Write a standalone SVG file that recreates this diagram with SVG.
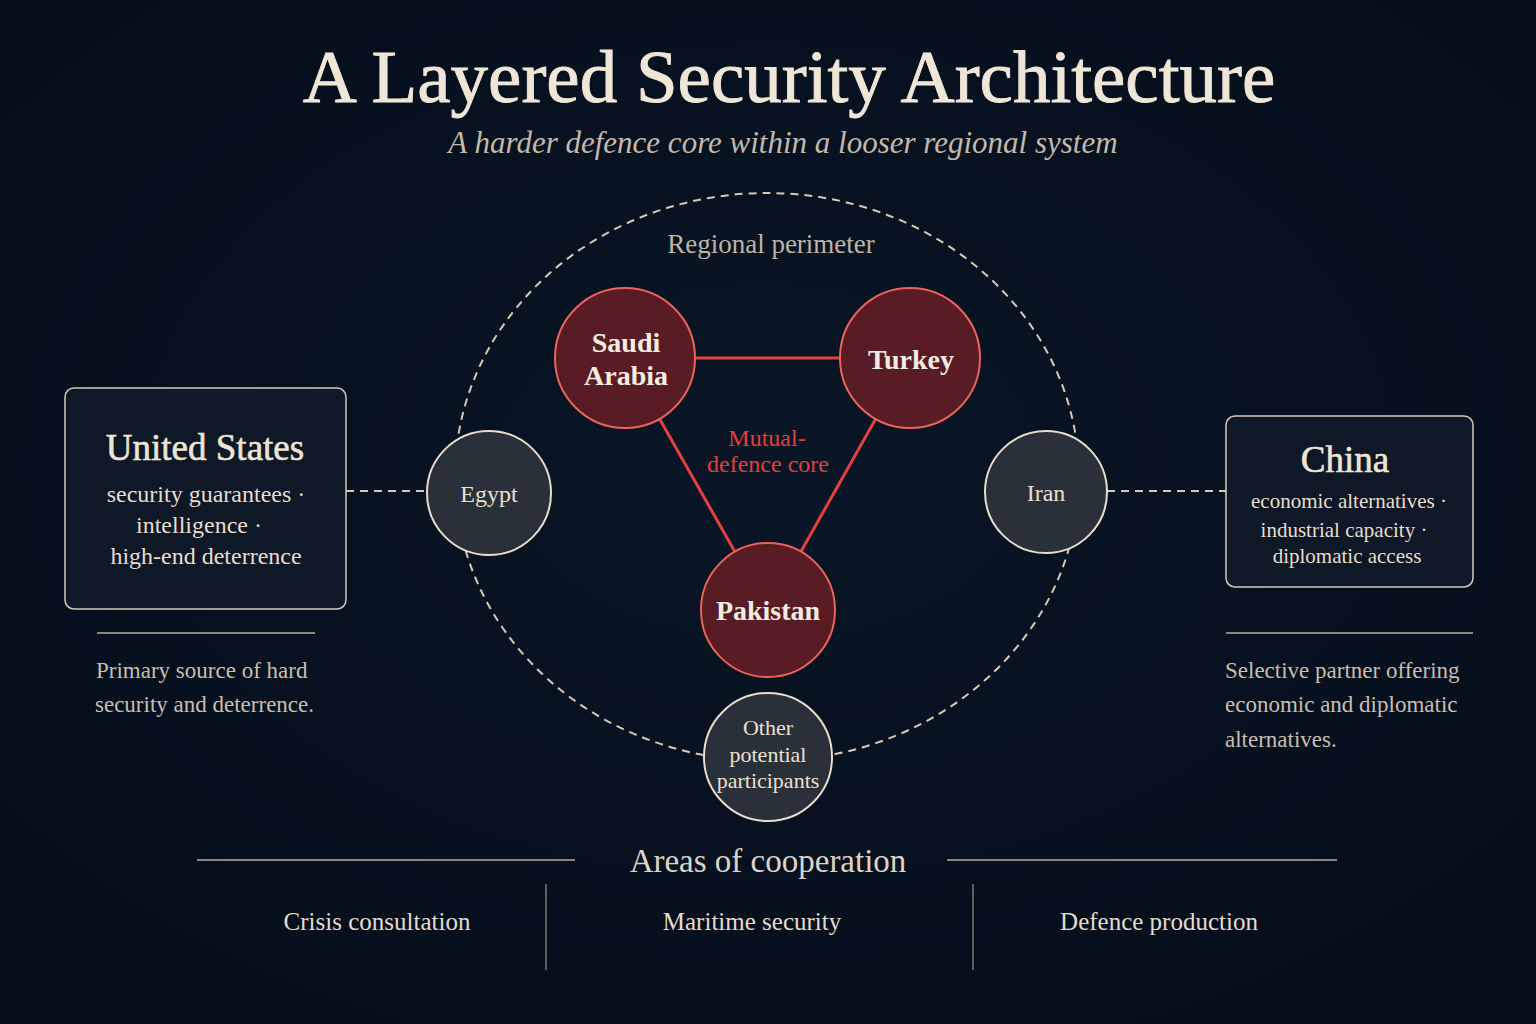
<svg xmlns="http://www.w3.org/2000/svg" width="1536" height="1024" viewBox="0 0 1536 1024">
<defs>
<radialGradient id="bg" cx="50%" cy="45%" r="75%">
<stop offset="0" stop-color="#0a1626"/>
<stop offset="1" stop-color="#040c18"/>
</radialGradient>
<style>
text{font-family:"Liberation Serif","DejaVu Serif",serif;}
.title{font-size:75px;fill:#efe6d8;stroke:#efe6d8;stroke-width:0.9;text-anchor:middle;}
.sub{font-size:31px;fill:#c3b9ab;font-style:italic;text-anchor:middle;}
.box{fill:#0e1826;stroke:#d6cab6;stroke-width:1.5;}
.boxhead{fill:#ede4d5;stroke:#ede4d5;stroke-width:0.6;text-anchor:middle;}
.boxtxt{fill:#e6ddcf;text-anchor:middle;}
.cap{font-size:23px;fill:#c9bfb0;}
.sep{stroke:#b9ae9c;stroke-width:1.5;}
.core{fill:#591c24;stroke:#ec625c;stroke-width:2;}
.coretxt{font-size:28px;fill:#f4ece0;font-weight:bold;text-anchor:middle;}
.outer{fill:#29303a;stroke:#e7ddcb;stroke-width:2;}
.outtxt{font-size:22px;fill:#e9e0d1;text-anchor:middle;}
.outbig{font-size:24px;}
.link{stroke:#e4403c;stroke-width:3;}
.dash{fill:none;stroke:#d6cab3;stroke-width:2;stroke-dasharray:8 6;}
.area{font-size:25px;fill:#e4dccf;text-anchor:middle;}
</style>
</defs>
<rect width="1536" height="1024" fill="url(#bg)"/>

<text class="title" x="789" y="102">A Layered Security Architecture</text>
<text class="sub" x="783" y="153">A harder defence core within a looser regional system</text>

<g id="perimeter">
<ellipse class="dash" cx="767" cy="477" rx="312" ry="284"/>
<text x="771" y="253" font-size="27" fill="#bdb4a6" text-anchor="middle">Regional perimeter</text>
</g>

<g id="connectors">
<line class="dash" x1="346" y1="491" x2="428" y2="491"/>
<line class="dash" x1="1107" y1="491" x2="1226" y2="491"/>
<line class="link" x1="625" y1="358" x2="910" y2="358"/>
<line class="link" x1="625" y1="358" x2="768" y2="610"/>
<line class="link" x1="910" y1="358" x2="768" y2="610"/>
</g>

<g id="core-label">
<text x="767" y="446" font-size="24" fill="#e0403c" text-anchor="middle">Mutual-</text>
<text x="768" y="472" font-size="24" fill="#e0403c" text-anchor="middle">defence core</text>
</g>

<g id="united-states">
<rect class="box" x="65" y="388" width="281" height="221" rx="9"/>
<text class="boxhead" x="205" y="460" font-size="37">United States</text>
<text class="boxtxt" x="206" y="502" font-size="24">security guarantees ·</text>
<text class="boxtxt" x="199" y="533" font-size="24">intelligence ·</text>
<text class="boxtxt" x="206" y="564" font-size="24">high-end deterrence</text>
<line class="sep" x1="97" y1="633" x2="315" y2="633"/>
<text class="cap" x="96" y="678">Primary source of hard</text>
<text class="cap" x="95" y="712">security and deterrence.</text>
</g>

<g id="china">
<rect class="box" x="1226" y="416" width="247" height="171" rx="9"/>
<text class="boxhead" x="1345" y="472" font-size="37">China</text>
<text class="boxtxt" x="1349" y="508" font-size="21">economic alternatives ·</text>
<text class="boxtxt" x="1344" y="537" font-size="21">industrial capacity ·</text>
<text class="boxtxt" x="1347" y="563" font-size="21">diplomatic access</text>
<line class="sep" x1="1226" y1="633" x2="1473" y2="633"/>
<text class="cap" x="1225" y="678">Selective partner offering</text>
<text class="cap" x="1225" y="712">economic and diplomatic</text>
<text class="cap" x="1225" y="747">alternatives.</text>
</g>

<g id="saudi-arabia">
<circle class="core" cx="625" cy="358" r="70"/>
<text class="coretxt" x="626" y="352">Saudi</text>
<text class="coretxt" x="626" y="385">Arabia</text>
</g>

<g id="turkey">
<circle class="core" cx="910" cy="358" r="70"/>
<text class="coretxt" x="911" y="369">Turkey</text>
</g>

<g id="pakistan">
<circle class="core" cx="768" cy="610" r="67"/>
<text class="coretxt" x="768" y="620">Pakistan</text>
</g>

<g id="egypt">
<circle class="outer" cx="489" cy="493" r="62"/>
<text class="outtxt outbig" x="489" y="502">Egypt</text>
</g>

<g id="iran">
<circle class="outer" cx="1046" cy="492" r="61"/>
<text class="outtxt outbig" x="1046" y="501">Iran</text>
</g>

<g id="other-participants">
<circle class="outer" cx="768" cy="757" r="64"/>
<text class="outtxt" x="768" y="735">Other</text>
<text class="outtxt" x="768" y="762">potential</text>
<text class="outtxt" x="768" y="788">participants</text>
</g>

<g id="areas">
<line class="sep" x1="197" y1="860" x2="575" y2="860"/>
<line class="sep" x1="947" y1="860" x2="1337" y2="860"/>
<text x="768" y="872" font-size="33" fill="#ddd4c5" text-anchor="middle">Areas of cooperation</text>
<line stroke="#9c9384" stroke-width="1.2" x1="546" y1="884" x2="546" y2="970"/>
<line stroke="#9c9384" stroke-width="1.2" x1="973" y1="884" x2="973" y2="970"/>
<text class="area" x="377" y="930">Crisis consultation</text>
<text class="area" x="752" y="930">Maritime security</text>
<text class="area" x="1159" y="930">Defence production</text>
</g>
</svg>
